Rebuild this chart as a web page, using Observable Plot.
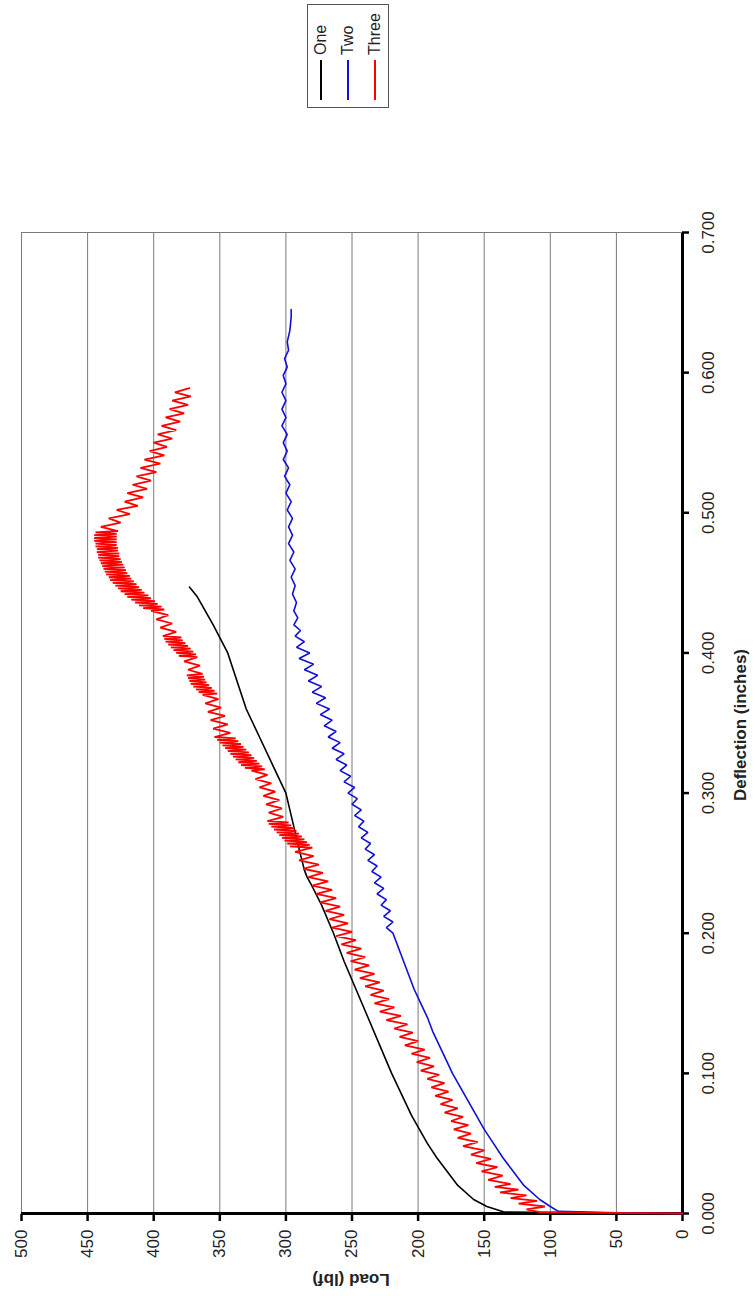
<!DOCTYPE html>
<html>
<head>
<meta charset="utf-8">
<script src="https://cdn.jsdelivr.net/npm/d3@7"></script>
<script src="https://cdn.jsdelivr.net/npm/@observablehq/plot@0.6"></script>
<style>
  html, body { margin: 0; padding: 0; background: #fff; overflow: hidden; }
  /* The chart is laid out landscape and turned a quarter-turn counter-clockwise onto the portrait page */
  #page {
    position: absolute; left: 0; top: 0; width: 1296px; height: 755px;
    transform-origin: 0 0; transform: translate(0, 1296px) rotate(-90deg);
    font-family: Arial, "Liberation Sans", sans-serif; background: #fff;
  }
  #legend {
    position: absolute; left: 1188px; top: 307px; width: 104px; height: 82px;
    border: 1px solid #555; background: #fff; box-sizing: border-box;
    font-size: 16px; color: #222;
  }
  #legend .row { position: absolute; left: 7px; height: 20px; display: flex; align-items: center; }
  #legend .sw { width: 40px; height: 0; border-top: 2px solid; margin-right: 5px; }
</style>
</head>
<body>
<div id="page"></div>
<script>
// Axis ticks
const deflectionTicks = [0, 0.1, 0.2, 0.3, 0.4, 0.5, 0.6, 0.7];
const loadTicks = [0, 50, 100, 150, 200, 250, 300, 350, 400, 450, 500];

const seriesNames = ["One", "Two", "Three"];
const seriesColors = ["#000000", "#1010d8", "#ff0000"];
const seriesWidths = [1.6, 1.6, 1.8];

// Series One: [deflection (in), load (lbf)]
const one = [
  [0, 0], [0.0005, 70], [0.001, 135], [0.005, 148], [0.01, 158], [0.02, 170], [0.03, 178],
  [0.04, 186], [0.05, 193], [0.06, 199], [0.07, 205], [0.08, 210], [0.09, 215], [0.10, 220],
  [0.12, 229], [0.14, 238], [0.16, 247], [0.18, 256], [0.20, 264], [0.22, 273], [0.235, 281],
  [0.24, 284], [0.245, 286], [0.26, 290], [0.28, 295], [0.30, 300], [0.32, 310], [0.34, 320],
  [0.36, 330], [0.38, 337], [0.40, 344], [0.42, 355], [0.44, 367], [0.447, 373]
];

// Series Two
const two = [
  [0, 0], [0.0005, 50], [0.0015, 94], [0.005, 100], [0.01, 108], [0.02, 120], [0.03, 128],
  [0.04, 136], [0.05, 143], [0.06, 150], [0.07, 156], [0.08, 162], [0.09, 168], [0.10, 174],
  [0.11, 179], [0.12, 184], [0.13, 189], [0.14, 193], [0.15, 198], [0.16, 203], [0.17, 207],
  [0.18, 211], [0.19, 215], [0.20, 219],
  [0.204, 224], [0.208, 219], [0.212, 226], [0.216, 221], [0.220, 228], [0.224, 224], [0.228, 231],
  [0.232, 226], [0.236, 233], [0.240, 228], [0.244, 235], [0.248, 231], [0.252, 238], [0.256, 233],
  [0.260, 240], [0.264, 236], [0.268, 243], [0.272, 238], [0.276, 245], [0.280, 241], [0.284, 248],
  [0.288, 243], [0.292, 250], [0.296, 246], [0.300, 253], [0.304, 248], [0.308, 256], [0.312, 251],
  [0.316, 259], [0.320, 254], [0.324, 262], [0.328, 256], [0.332, 265], [0.336, 259], [0.340, 268],
  [0.344, 262], [0.348, 271], [0.352, 265], [0.356, 274], [0.360, 267], [0.364, 277], [0.368, 270],
  [0.372, 280], [0.376, 273], [0.380, 283], [0.384, 276], [0.388, 286], [0.392, 279], [0.396, 290],
  [0.400, 282], [0.404, 292], [0.408, 286], [0.412, 293], [0.416, 289], [0.420, 294], [0.425, 291],
  [0.430, 294], [0.436, 292], [0.442, 295], [0.448, 293], [0.454, 296], [0.460, 293], [0.466, 297],
  [0.472, 294], [0.478, 298], [0.484, 295], [0.490, 298], [0.496, 295], [0.502, 299], [0.508, 296],
  [0.514, 300], [0.520, 297], [0.526, 301], [0.532, 298], [0.538, 302], [0.544, 299], [0.550, 302],
  [0.556, 299], [0.562, 303], [0.568, 300], [0.574, 303], [0.580, 300], [0.586, 303], [0.592, 300],
  [0.598, 302], [0.604, 299], [0.610, 301], [0.616, 298], [0.622, 299], [0.630, 297], [0.640, 296],
  [0.645, 296]
];

// Series Three (saw-tooth load record, with dense bursts)
const three = [
  [0, 0], [0.0005, 60], [0.001, 108], [0.003, 118], [0.005, 104], [0.007, 124], [0.009, 110],
  [0.011, 130], [0.013, 118], [0.015, 138], [0.017, 124], [0.019, 142], [0.021, 130], [0.024, 147],
  [0.027, 136], [0.030, 152], [0.033, 140], [0.036, 156], [0.039, 145], [0.042, 160], [0.045, 150],
  [0.048, 166], [0.051, 155], [0.054, 170], [0.057, 160], [0.060, 173], [0.063, 162], [0.066, 175],
  [0.069, 166], [0.072, 180], [0.075, 170], [0.078, 183], [0.081, 174], [0.084, 187], [0.087, 177],
  [0.090, 190], [0.093, 180], [0.096, 193], [0.099, 184], [0.102, 198], [0.105, 188], [0.108, 201],
  [0.111, 191], [0.114, 205], [0.117, 195], [0.120, 210], [0.123, 200], [0.126, 214], [0.129, 204],
  [0.132, 218], [0.135, 208], [0.138, 224], [0.141, 213], [0.144, 229], [0.147, 218], [0.150, 233],
  [0.153, 222], [0.156, 236], [0.159, 226], [0.162, 240], [0.165, 229], [0.168, 244], [0.171, 233],
  [0.174, 248], [0.177, 237], [0.180, 251], [0.183, 240], [0.186, 254], [0.189, 243], [0.192, 258],
  [0.195, 247], [0.198, 262], [0.201, 250], [0.204, 265], [0.207, 253], [0.210, 267], [0.213, 256],
  [0.216, 270], [0.219, 259], [0.222, 274], [0.225, 262], [0.228, 277], [0.231, 265], [0.234, 280],
  [0.237, 268], [0.240, 283], [0.243, 272], [0.246, 287], [0.249, 275], [0.252, 290], [0.255, 279],
  [0.258, 293], [0.261, 280],
  [0.262, 297], [0.263, 282], [0.264, 299], [0.265, 284], [0.266, 301], [0.267, 286], [0.268, 303],
  [0.269, 288], [0.270, 305], [0.271, 290], [0.272, 307], [0.273, 292], [0.274, 309], [0.275, 294],
  [0.276, 311], [0.277, 296], [0.278, 313], [0.279, 298], [0.280, 314],
  [0.283, 302], [0.286, 313], [0.289, 303], [0.292, 315], [0.295, 305], [0.298, 317], [0.301, 308],
  [0.304, 320], [0.307, 311], [0.310, 323], [0.313, 314], [0.316, 326],
  [0.317, 316], [0.318, 331], [0.319, 318], [0.320, 334], [0.321, 320], [0.322, 336], [0.323, 322],
  [0.324, 338], [0.325, 324], [0.326, 340], [0.327, 326], [0.328, 342], [0.329, 328], [0.330, 344],
  [0.331, 330], [0.332, 346], [0.333, 332], [0.334, 348], [0.335, 334], [0.336, 350], [0.337, 336],
  [0.338, 352], [0.339, 338], [0.340, 354],
  [0.343, 342], [0.346, 355], [0.349, 344], [0.352, 357], [0.355, 346], [0.358, 359], [0.361, 349],
  [0.364, 361], [0.367, 351], [0.370, 363],
  [0.371, 352], [0.372, 366], [0.373, 354], [0.374, 368], [0.375, 356], [0.376, 370], [0.377, 358],
  [0.378, 372], [0.379, 360], [0.380, 373], [0.381, 361], [0.382, 374], [0.383, 362], [0.384, 375],
  [0.385, 363],
  [0.388, 374], [0.391, 365], [0.394, 377], [0.397, 367],
  [0.398, 381], [0.399, 368], [0.400, 383], [0.401, 370], [0.402, 385], [0.403, 372], [0.404, 387],
  [0.405, 374], [0.406, 389], [0.407, 376], [0.408, 391], [0.409, 378], [0.410, 392], [0.411, 379],
  [0.412, 393],
  [0.415, 383], [0.418, 395], [0.421, 386], [0.424, 398], [0.427, 389], [0.430, 402],
  [0.431, 392], [0.432, 408], [0.433, 394], [0.434, 411], [0.435, 397], [0.436, 414], [0.437, 399],
  [0.438, 417], [0.439, 402], [0.440, 420], [0.441, 404], [0.442, 422], [0.443, 407], [0.444, 425],
  [0.445, 409], [0.446, 427], [0.447, 411], [0.448, 429], [0.449, 413], [0.450, 431], [0.451, 415],
  [0.452, 433], [0.453, 417], [0.454, 434], [0.455, 418], [0.456, 436], [0.457, 420], [0.458, 437],
  [0.459, 421], [0.460, 438], [0.461, 422], [0.462, 439], [0.463, 423], [0.464, 440], [0.465, 424],
  [0.466, 441], [0.467, 425], [0.468, 442], [0.469, 426], [0.470, 442], [0.471, 426], [0.472, 443],
  [0.473, 427], [0.474, 443], [0.475, 427], [0.476, 444], [0.477, 428], [0.478, 444], [0.479, 428],
  [0.480, 445], [0.481, 428], [0.482, 445], [0.483, 428], [0.484, 445], [0.485, 428], [0.486, 444],
  [0.487, 427],
  [0.490, 440], [0.493, 425], [0.496, 434], [0.499, 418], [0.502, 428], [0.505, 412], [0.508, 422],
  [0.511, 408], [0.514, 420], [0.517, 405], [0.520, 416], [0.523, 402], [0.526, 413], [0.529, 398],
  [0.532, 410], [0.535, 395], [0.538, 407], [0.541, 392], [0.544, 403], [0.547, 390], [0.550, 400],
  [0.553, 386], [0.556, 397], [0.559, 383], [0.562, 394], [0.565, 380], [0.568, 391], [0.571, 377],
  [0.574, 388], [0.577, 374], [0.580, 386], [0.583, 372], [0.586, 384], [0.589, 373]
];

const seriesData = [one, two, three];
const rowsFor = (i) => seriesData[i].map(([d, l]) => ({series: seriesNames[i], deflection: d, load: l}));

const W = 1296, H = 755;
const chart = Plot.plot({
  width: W,
  height: H,
  marginLeft: 82,
  marginRight: 233,
  marginTop: 21,
  marginBottom: 73,
  style: {fontFamily: "Arial, 'Liberation Sans', sans-serif", fontSize: "17px", background: "#fff", color: "#222"},
  x: {domain: [0, 0.7]},
  y: {domain: [0, 500]},
  color: {domain: seriesNames, range: seriesColors},
  marks: [
    Plot.gridY(loadTicks, {stroke: "#7a7a7a", strokeOpacity: 1, strokeWidth: 1}),
    Plot.ruleX([0.7], {stroke: "#7a7a7a", strokeWidth: 1}),
    Plot.axisX(deflectionTicks, {
      tickFormat: d3.format(".3f"), tickSize: 7, tickPadding: 12, strokeWidth: 2.5,
      stroke: "#000", fill: "#222", fontSize: 17, label: null
    }),
    Plot.axisY(loadTicks, {
      tickSize: 7, tickPadding: 9, strokeWidth: 2.5,
      stroke: "#000", fill: "#222", fontSize: 17, label: null
    }),
    Plot.ruleY([0], {stroke: "#000", strokeWidth: 3}),
    Plot.ruleX([0], {stroke: "#000", strokeWidth: 3}),
    ...seriesNames.map((name, i) =>
      Plot.line(rowsFor(i), {x: "deflection", y: "load", stroke: "series", strokeWidth: seriesWidths[i], strokeLinejoin: "miter"})
    )
  ]
});

// Axis titles
const svg = d3.select(chart);
svg.append("text")
  .attr("x", 571).attr("y", 746)
  .attr("text-anchor", "middle")
  .attr("font-weight", "bold").attr("font-size", 17).attr("fill", "#222")
  .text("Deflection (inches)");
svg.append("text")
  .attr("transform", "translate(22,351) rotate(-90)")
  .attr("text-anchor", "middle")
  .attr("font-weight", "bold").attr("font-size", 17).attr("fill", "#222")
  .text("Load (lbf)");

const page = document.getElementById("page");
page.appendChild(chart);

// Legend
const legend = document.createElement("div");
legend.id = "legend";
seriesNames.forEach((name, i) => {
  const row = document.createElement("div");
  row.className = "row";
  row.style.top = (3 + i * 27) + "px";
  const sw = document.createElement("div");
  sw.className = "sw";
  sw.style.borderTopColor = seriesColors[i];
  const label = document.createElement("span");
  label.textContent = name;
  row.appendChild(sw);
  row.appendChild(label);
  legend.appendChild(row);
});
page.appendChild(legend);
</script>
</body>
</html>
